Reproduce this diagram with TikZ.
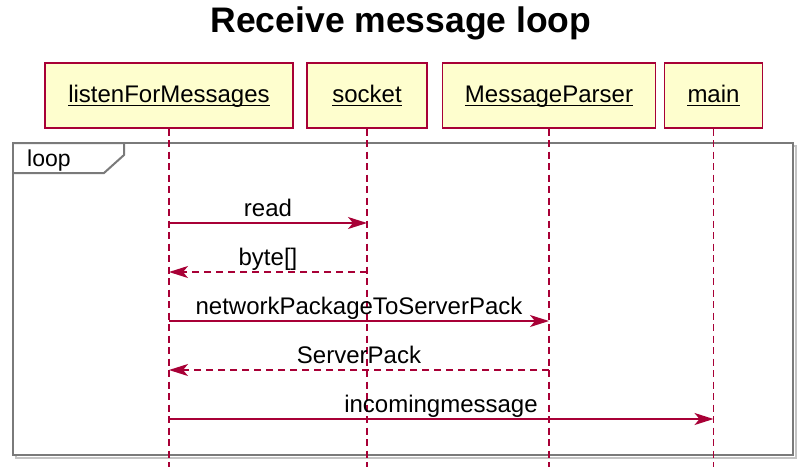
\documentclass[tikz,border=0pt]{standalone}
\usepackage{fontspec}
\setmainfont{Liberation Sans}
\usetikzlibrary{arrows.meta}

\definecolor{seqred}{HTML}{A80036}
\definecolor{seqfill}{HTML}{FEFECE}
\definecolor{framegray}{HTML}{7A7A7A}
\definecolor{shadowgray}{HTML}{C4C4C4}

\tikzset{
  pbox/.style={draw=seqred, fill=seqfill, line width=1.4pt, minimum height=65pt, inner sep=0pt},
  plabel/.style={anchor=base, inner sep=0pt, font=\fontsize{24}{28}\selectfont},
  mlabel/.style={anchor=base, inner sep=0pt, font=\fontsize{24}{28}\selectfont},
  life/.style={draw=seqred, line width=1.4pt, dash pattern=on 7pt off 4.5pt},
  msg/.style={draw=seqred, line width=1.5pt, -{Stealth[length=19pt, width=12pt, inset=5pt]}},
  reply/.style={msg, dash pattern=on 7.5pt off 4.5pt},
  loopframe/.style={draw=framegray, line width=2pt},
  uline/.style={line width=1.1pt, black}
}

\begin{document}
\begin{tikzpicture}[x=1pt, y=-1pt]
  \useasboundingbox (0,0) rectangle (808,467);
  \fill[white] (0,0) rectangle (808,467);

  % title
  \node[anchor=base, inner sep=0pt, font=\fontsize{35.5}{40}\selectfont\bfseries] (title) at (401,32) {Receive message loop};

  % loop fragment with its shadow and tab
  \draw[shadowgray, line width=2pt] (16,146) rectangle (796,458);
  \draw[loopframe, fill=white] (13,143) rectangle (793,455);
  \draw[loopframe, line join=miter] (13,143) -- (124,143) -- (124,155) -- (104,173) -- (13,173);
  \node[anchor=base west, inner sep=0pt, font=\fontsize{23}{27}\selectfont] (looplbl) at (27,166) {loop};

  % participants
  \node[pbox, minimum width=248pt] (lfm)  at (169,95.5) {};
  \node[pbox, minimum width=120pt] (sock) at (367,95.5) {};
  \node[pbox, minimum width=213pt] (mp)   at (549,95.5) {};
  \node[pbox, minimum width=98pt]  (mn)   at (713.5,95.5) {};

  \node[plabel] (lfmT)  at (169,102.5)   {listenForMessages};
  \node[plabel] (sockT) at (367,102.5)   {socket};
  \node[plabel] (mpT)   at (549,102.5)   {MessageParser};
  \node[plabel] (mnT)   at (713.5,102.5) {main};
  \foreach \t in {lfmT,sockT,mpT,mnT}
    \draw[uline] ([yshift=-2.6pt]\t.base west) -- ([yshift=-2.6pt]\t.base east);

  % lifelines
  \coordinate (bottom) at (0,467);
  \foreach \p in {lfm,sock,mp,mn}
    \draw[life] (\p.south) -- (\p.south |- bottom);

  % message rows
  \coordinate (r1) at (0,223);
  \coordinate (r2) at (0,272);
  \coordinate (r3) at (0,321);
  \coordinate (r4) at (0,370);
  \coordinate (r5) at (0,419);

  \draw[msg]   (lfm |- r1) -- (sock |- r1);
  \draw[reply] (sock |- r2) -- (lfm |- r2);
  \draw[msg]   (lfm |- r3) -- (mp |- r3);
  \draw[reply] (mp |- r4) -- (lfm |- r4);
  \draw[msg]   (lfm |- r5) -- (mn |- r5);

  \node[mlabel] (l1) at (268,216) {read};
  \node[mlabel] (l2) at (268,265) {byte[]};
  \node[mlabel] (l3) at (359,314) {networkPackageToServerPack};
  \node[mlabel] (l4) at (359,363) {ServerPack};
  \node[mlabel] (l5) at (441,412) {incomingmessage};
\end{tikzpicture}
\end{document}
